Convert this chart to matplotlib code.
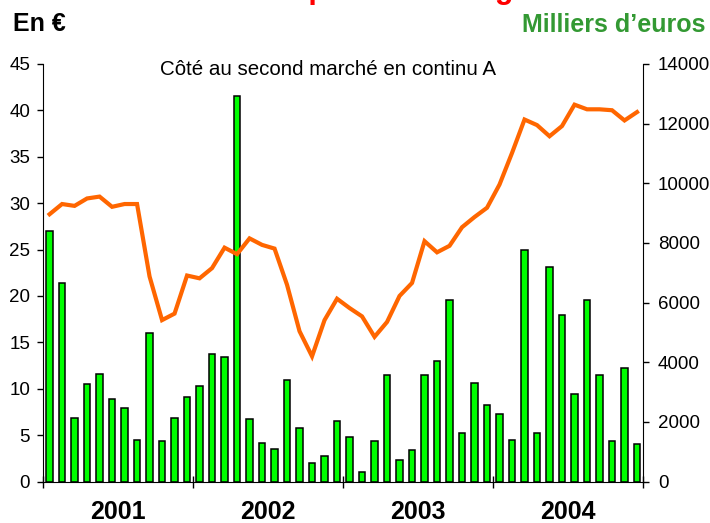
import numpy as np
import matplotlib
matplotlib.use("Agg")
from matplotlib import pyplot as plt

plt.rcParams['font.family'] = ['Liberation Sans', 'DejaVu Sans']

# monthly data, Jan 2001 .. Dec 2004
years = ['2001', '2002', '2003', '2004']
volume = [8400, 6660, 2150, 3270, 3600, 2780, 2480, 1400, 4980, 1350, 2150, 2830,
          3220, 4290, 4190, 12910, 2090, 1310, 1110, 3420, 1800, 640, 870, 2040,
          1510, 320, 1350, 3590, 720, 1050, 3590, 4050, 6090, 1640, 3300, 2570,
          2280, 1390, 7770, 1640, 7190, 5580, 2930, 6090, 3590, 1350, 3800, 1250]
price = [28.8, 29.9, 29.7, 30.5, 30.7, 29.6, 29.9, 29.9, 22.1, 17.4, 18.1, 22.2,
         21.9, 23.0, 25.2, 24.5, 26.2, 25.5, 25.1, 21.2, 16.2, 13.5, 17.4, 19.7,
         18.7, 17.8, 15.6, 17.2, 20.0, 21.4, 25.9, 24.7, 25.4, 27.4, 28.5, 29.5,
         32.0, 35.4, 39.0, 38.4, 37.2, 38.3, 40.6, 40.1, 40.1, 40.0, 38.9, 39.8]

n = len(volume)
x = np.arange(n) + 0.5

fig = plt.figure(figsize=(7.1, 5.23), dpi=100)
ax = fig.add_subplot(111)
fig.subplots_adjust(left=0.061, right=0.906, bottom=0.079, top=0.878)
ax2 = ax.twinx()

ax2.bar(x, volume, width=0.5, color='#00ff00', edgecolor='black', linewidth=1.1)
ax.plot(x, price, color='#ff6600', linewidth=3, solid_joinstyle='miter')

ax.set_zorder(ax2.get_zorder() + 1)
ax.patch.set_visible(False)

ax.set_xlim(0, n)
ax.set_ylim(0, 45)
ax2.set_ylim(0, 14000)
ax.set_yticks(np.arange(0, 46, 5))
ax2.set_yticks(np.arange(0, 14001, 2000))

for a in (ax, ax2):
    a.spines['top'].set_visible(False)
ax.spines['right'].set_visible(False)
ax2.spines['left'].set_visible(False)
ax2.spines['bottom'].set_visible(False)

ax.tick_params(axis='y', direction='out', length=4.5, width=1, labelsize=13.5, pad=5)
ax2.tick_params(axis='y', direction='out', length=4.5, width=1, labelsize=13.5, pad=6)

# year separators and year labels
ax.set_xticks(np.arange(0, n + 1, 12))
ax.set_xticklabels([])
ax.tick_params(axis='x', which='major', direction='inout', length=9, width=1)
ax.set_xticks(np.arange(6, n, 12), minor=True)
ax.set_xticklabels(years, minor=True, fontsize=18, fontweight='bold')
ax.tick_params(axis='x', which='minor', length=0, pad=13.5)

fig.text(0.018, 0.9413, 'En €', fontsize=18, fontweight='bold', ha='left', va='baseline')
fig.text(0.993, 0.9394, 'Milliers d\u2019euros', fontsize=18, fontweight='bold',
         color='#339933', ha='right', va='baseline')
fig.text(0.4613, 0.8565, 'Côté au second marché en continu A', fontsize=14.8,
         ha='center', va='baseline')
fig.text(0.2, 1.0038, 'Cours et capitaux échangés', fontsize=22, fontweight='bold',
         color='#ff0000', ha='left', va='baseline')

fig.savefig('out.png', dpi=100)
